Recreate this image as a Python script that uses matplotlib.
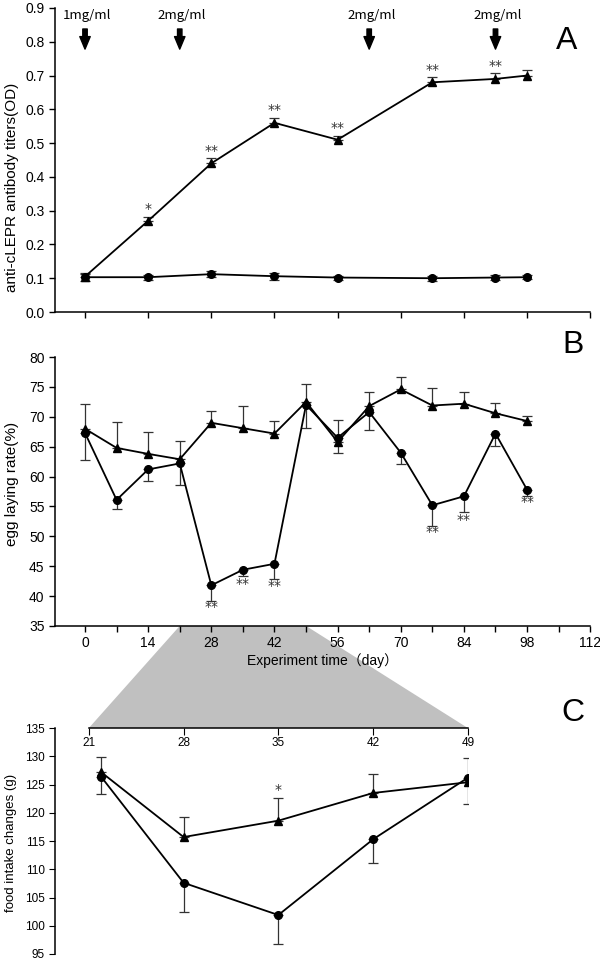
import numpy as np
import matplotlib
matplotlib.use("Agg")
import matplotlib.pyplot as plt
from matplotlib.patches import Polygon

plt.rcParams['font.family'] = ['Liberation Sans', 'Noto Sans CJK SC']

# Panel A: antibody titers
a_days = [0, 14, 28, 42, 56, 77, 91, 98]
a_immune = [0.105, 0.27, 0.44, 0.56, 0.51, 0.68, 0.69, 0.70]
a_immune_err = [0.01, 0.012, 0.015, 0.015, 0.012, 0.015, 0.017, 0.015]
a_control = [0.103, 0.103, 0.112, 0.106, 0.102, 0.100, 0.102, 0.103]
a_control_err = [0.01, 0.008, 0.008, 0.01, 0.006, 0.008, 0.008, 0.006]
a_stars = ['', '*', '**', '**', '**', '**', '**', '']
boost_days = [0, 21, 63, 91]
boost_labels = ['1mg/ml', '2mg/ml', '2mg/ml', '2mg/ml']

# Panel B: egg laying rate
b_days = [0, 7, 14, 21, 28, 35, 42, 49, 56, 63, 70, 77, 84, 91, 98]
b_tri = [68.0, 64.8, 63.8, 62.9, 69.0, 68.1, 67.2, 72.5, 65.8, 71.8, 74.6, 71.9, 72.2, 70.6, 69.3]
b_tri_err = [4.1, 4.3, 3.6, 3.1, 1.9, 3.8, 2.1, 3.0, 3.6, 2.4, 2.0, 3.0, 2.0, 1.7, 0.8]
b_cir = [67.3, 56.1, 61.2, 62.2, 41.8, 44.4, 45.4, 72.0, 66.5, 70.8, 64.0, 55.2, 56.7, 67.2, 57.8]
b_cir_err = [4.5, 1.5, 1.9, 3.6, 2.6, 1.0, 2.6, 3.8, 2.5, 3.0, 1.9, 3.4, 2.7, 2.1, 1.0]
b_stars = ['', '', '', '', '**', '**', '**', '', '', '', '', '**', '**', '', '**']
b_star_y = [0, 0, 0, 0, 38.2, 42.1, 41.7, 0, 0, 0, 0, 50.8, 52.8, 0, 55.8]

# Panel C: food intake (zoom of days 21-49)
c_days = [21.9, 28, 35, 42, 49]
c_tri = [127.2, 115.7, 118.6, 123.5, 125.4]
c_tri_err = [2.6, 3.6, 4.0, 3.3, 4.3]
c_cir = [126.4, 107.6, 101.9, 115.3, 126.2]
c_cir_err = [3.0, 5.1, 5.1, 4.2, 4.6]
c_ticks = [21, 28, 35, 42, 49]

fig = plt.figure(figsize=(6, 9.6), dpi=100)
axA = fig.add_axes([0.0917, 0.675, 0.892, 0.3167])
axB = fig.add_axes([0.0917, 0.348, 0.892, 0.280])
axC = fig.add_axes([0.0917, 0.00625, 0.688, 0.2354])

line_kw = dict(color='black', lw=1.3, zorder=3)
err_kw = dict(fmt='none', ecolor='#333333', elinewidth=0.9, capsize=3.5, capthick=0.9, zorder=2)
star_kw = dict(ha='center', va='center', fontsize=10, color='#333333', family=['DejaVu Sans'])

# ---- A ----
zeros = np.zeros(len(a_days))
axA.errorbar(a_days, a_immune, yerr=[zeros, a_immune_err], **err_kw)
axA.errorbar(a_days, a_control, yerr=[a_control_err, a_control_err], **err_kw)
axA.plot(a_days, a_immune, marker='^', ms=6, **line_kw)
axA.plot(a_days, a_control, marker='o', ms=5.5, **line_kw)
for d, v, e, s in zip(a_days, a_immune, a_immune_err, a_stars):
    if s:
        axA.text(d, v + e + 0.022, s, **star_kw)
for d, lab in zip(boost_days, boost_labels):
    axA.annotate('', xy=(d, 0.770), xytext=(d, 0.846),
                 arrowprops=dict(arrowstyle='simple,head_width=0.75,head_length=0.9,tail_width=0.32',
                                 fc='black', ec='black'))
    axA.text(d + 0.5, 0.879, lab, ha='center', va='center', fontsize=9.5,
             family=['Noto Sans CJK SC'])
axA.set_xlim(-6.65, 112)
axA.set_ylim(0, 0.9)
axA.set_yticks(np.arange(0, 0.91, 0.1))
axA.set_xticks(np.arange(0, 113, 14))
axA.set_xticklabels([])
axA.set_ylabel('anti-cLEPR antibody titers(OD)', fontsize=11)
axA.yaxis.set_label_coords(-0.068, 0.41)
axA.text(0.955, 0.89, 'A', transform=axA.transAxes, fontsize=23, ha='center', va='center')

# ---- B ----
zb = np.zeros(len(b_days))
axB.errorbar(b_days, b_tri, yerr=[zb, b_tri_err], **err_kw)
axB.errorbar(b_days, b_cir, yerr=[b_cir_err, zb], **err_kw)
axB.plot(b_days, b_tri, marker='^', ms=6, **line_kw)
axB.plot(b_days, b_cir, marker='o', ms=5.5, **line_kw)
for d, s, y in zip(b_days, b_stars, b_star_y):
    if s:
        axB.text(d, y, s, **star_kw)
axB.set_xlim(-6.65, 112)
axB.set_ylim(35, 80)
axB.set_yticks(np.arange(35, 81, 5))
axB.set_xticks(np.arange(0, 113, 14))
axB.set_xticks(np.arange(7, 113, 14), minor=True)
axB.set_xlabel('Experiment time（day）', fontsize=10, labelpad=2)
axB.set_ylabel('egg laying rate(%)', fontsize=11)
axB.yaxis.set_label_coords(-0.068, 0.53)
fig.text(573 / 600, 1 - 345 / 960, 'B', fontsize=23, ha='center', va='center')

# ---- C ----
zc = np.zeros(len(c_days))
axC.errorbar(c_days, c_tri, yerr=[zc, c_tri_err], **err_kw)
axC.errorbar(c_days, c_cir, yerr=[c_cir_err, zc], **err_kw)
axC.plot(c_days, c_tri, marker='^', ms=6, **line_kw)
axC.plot(c_days, c_cir, marker='o', ms=5.5, **line_kw)
axC.text(35, 124.1, '*', **star_kw)
axC.set_xlim(18.5, 49)
axC.set_ylim(95, 135)
axC.set_yticks(np.arange(95, 136, 5))
axC.xaxis.tick_top()
axC.set_xticks(c_ticks)
axC.tick_params(axis='x', direction='in', length=5, pad=-15, labelsize=8.5)
axC.tick_params(axis='y', labelsize=8.5, length=4)
axC.spines['top'].set_bounds(21, 49)
axC.spines['right'].set_visible(False)
axC.spines['bottom'].set_visible(False)
axC.set_ylabel('food intake changes (g)', fontsize=9.5)
axC.yaxis.set_label_coords(-0.092, 0.49)
fig.text(573 / 600, 1 - 713 / 960, 'C', fontsize=23, ha='center', va='center')

for ax in (axA, axB):
    ax.spines['top'].set_visible(False)
    ax.spines['right'].set_visible(False)
    ax.tick_params(axis='both', which='major', length=4, labelsize=10, width=1)
    ax.tick_params(axis='x', which='minor', length=4, width=1)
for ax in (axA, axB, axC):
    ax.set_facecolor('none')
    for sp in ax.spines.values():
        sp.set_linewidth(1.1)

# grey wedge connecting days 21-49 in B to panel C
fig.canvas.draw()
to_fig = fig.transFigure.inverted()
pts = [axB.transData.transform((21, 35)), axB.transData.transform((49, 35)),
       axC.transData.transform((49, 135)), axC.transData.transform((21, 135))]
pts = [to_fig.transform(p) for p in pts]
fig.add_artist(Polygon(pts, closed=True, transform=fig.transFigure,
                       facecolor='#c0c0c0', edgecolor='none', zorder=-1))

fig.savefig('out.png', dpi=100)
